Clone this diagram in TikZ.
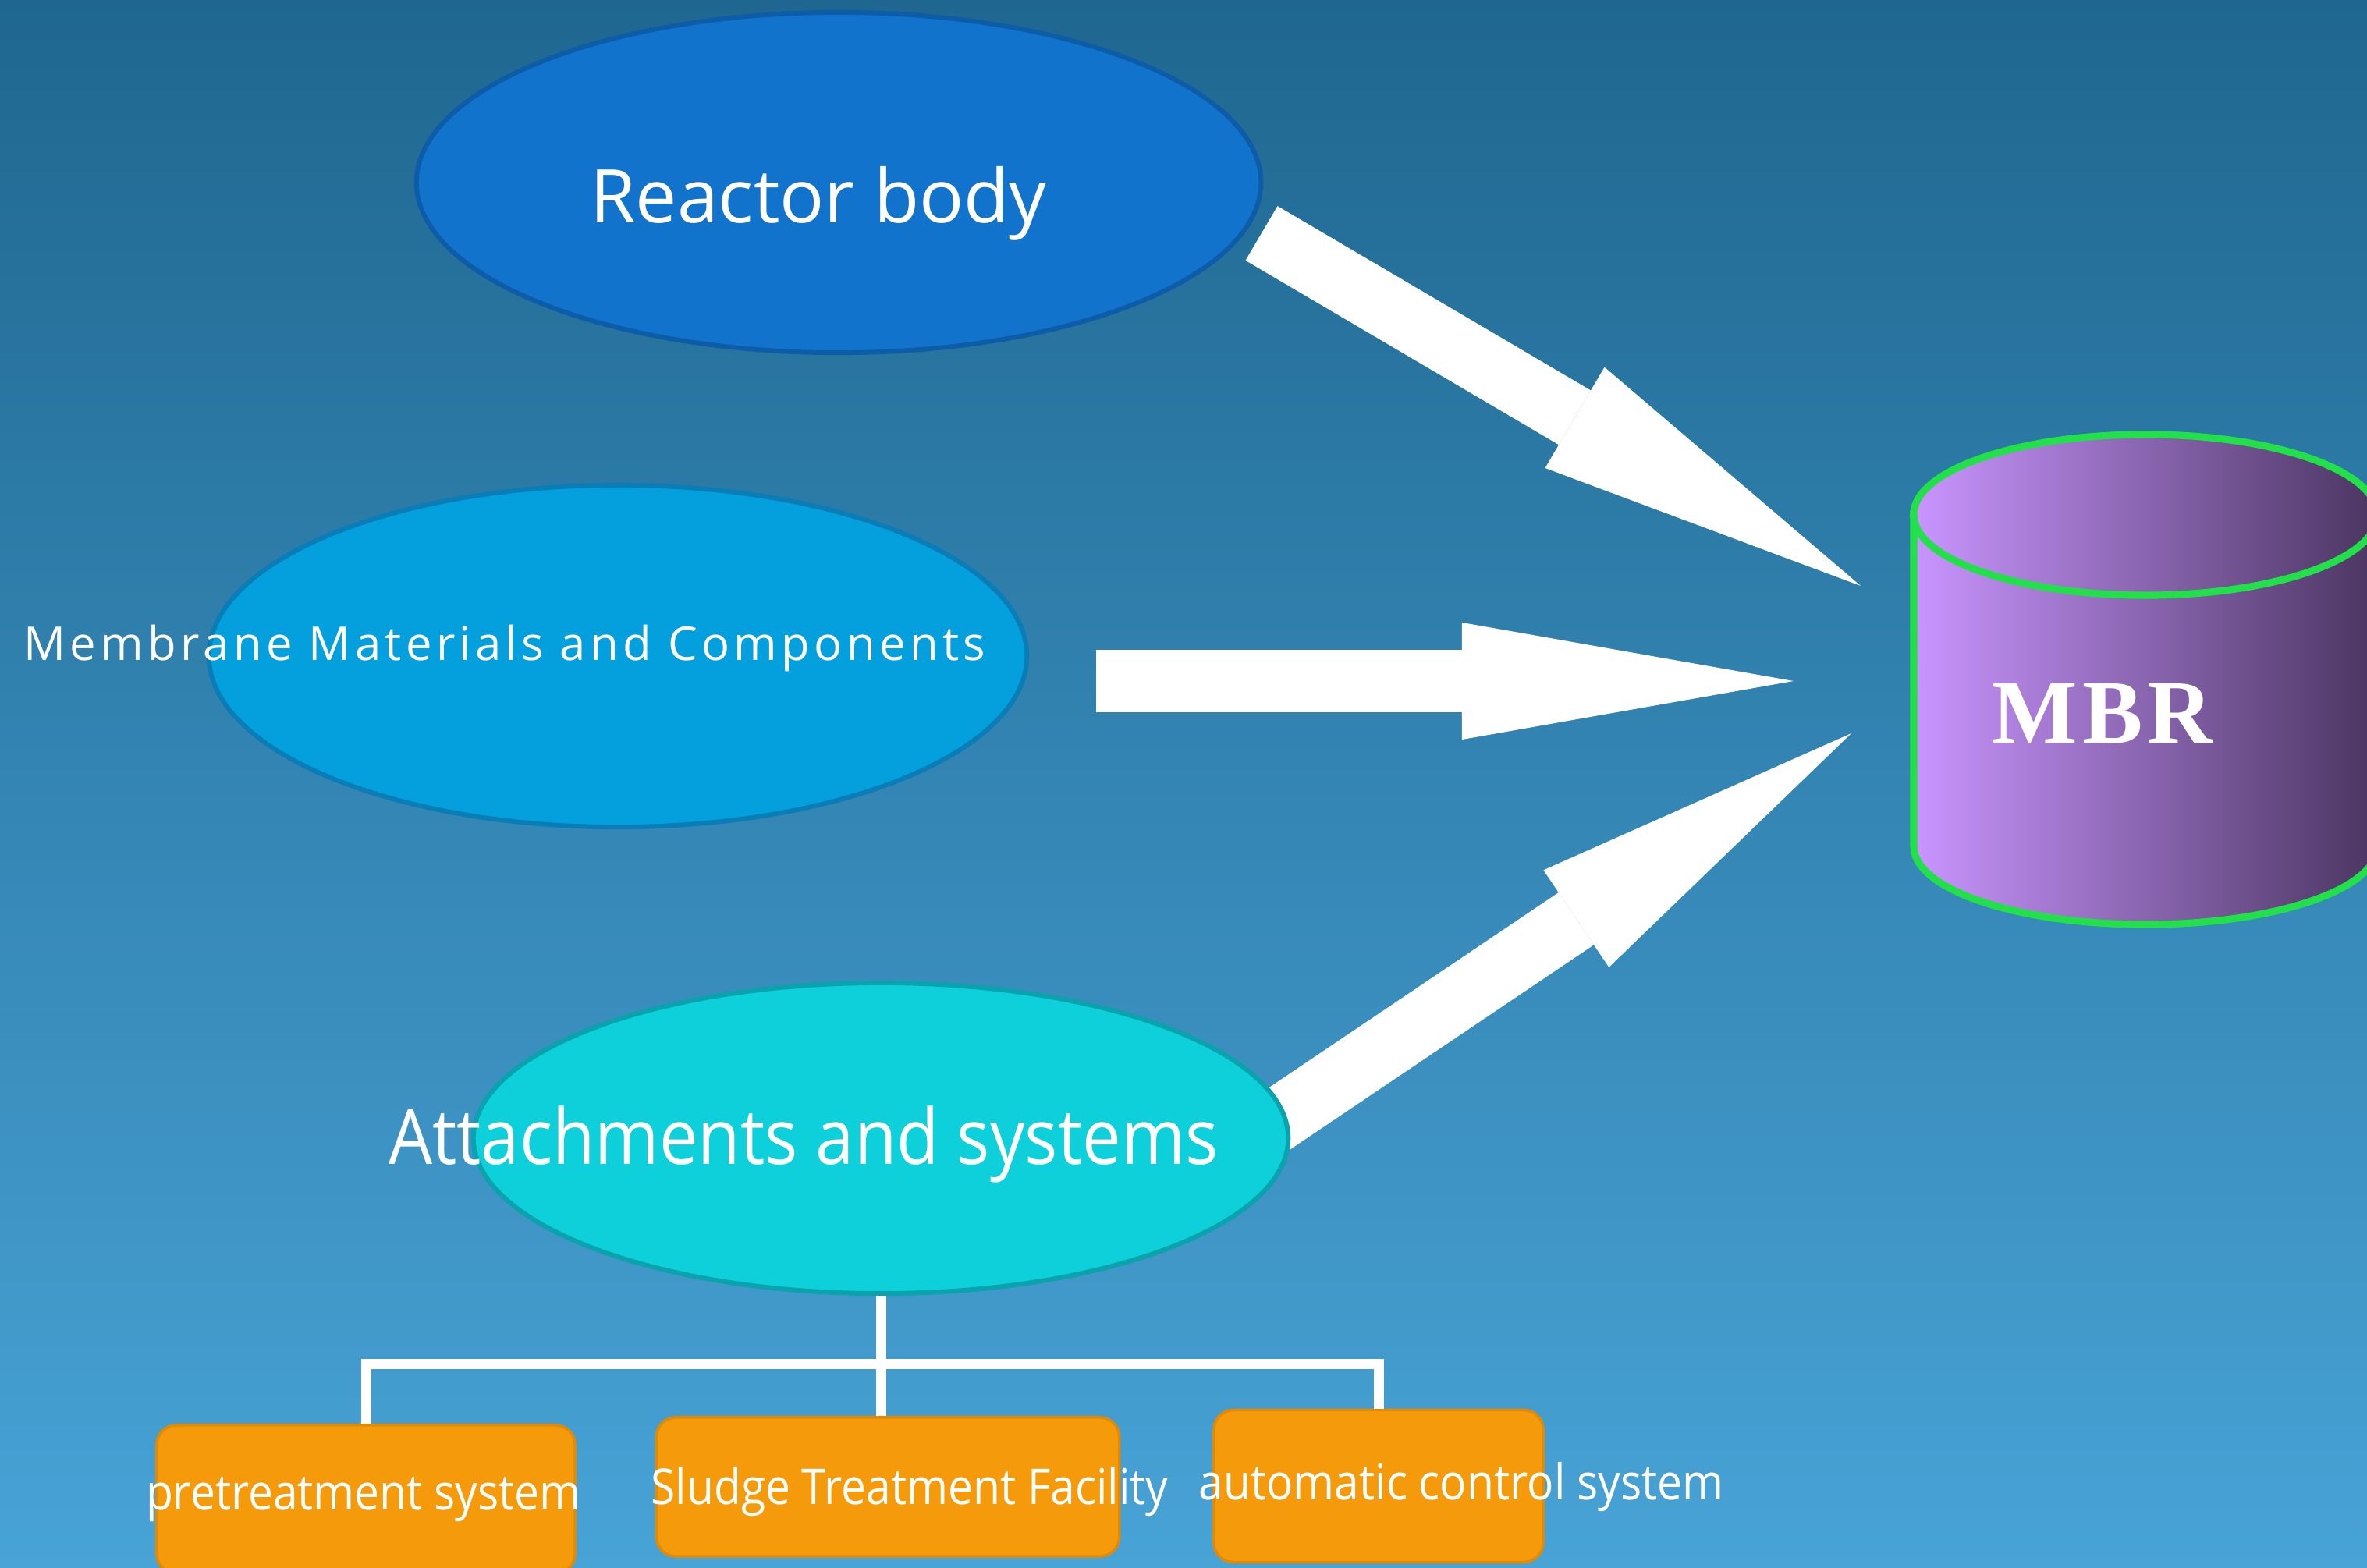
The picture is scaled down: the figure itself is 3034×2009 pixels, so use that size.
\documentclass[tikz,border=0pt]{standalone}
\usepackage{fontspec}
\usepackage{xcolor}
\usepackage{tikz}
\usetikzlibrary{positioning, arrows.meta, calc, shapes.geometric}

\newfontfamily\labelfont{Open Sans}
\newfontfamily\mbrfont{Liberation Serif}
\newcommand{\squeeze}[1]{\scalebox{0.9}[1]{#1}}

\definecolor{bgtop}{HTML}{1F6790}
\definecolor{bgbottom}{HTML}{48A3D6}
\definecolor{reactorfill}{HTML}{1273CD}
\definecolor{reactorline}{HTML}{0D5CA8}
\definecolor{membranefill}{HTML}{04A0DD}
\definecolor{membraneline}{HTML}{0A7DB6}
\definecolor{attachfill}{HTML}{0DD0DA}
\definecolor{attachline}{HTML}{0AA2AC}
\definecolor{boxfill}{HTML}{F59B0B}
\definecolor{boxline}{HTML}{E08A05}
\definecolor{tankline}{HTML}{22E04A}
\definecolor{tanklight}{HTML}{C995FF}
\definecolor{tankdark}{HTML}{4A3560}

\begin{document}
\begin{tikzpicture}[
  x=0.01cm, y=-0.01cm,
  blob/.style={ellipse, line width=1.7pt, inner sep=0pt},
  reactorblob/.style={blob, fill=reactorfill, draw=reactorline,
                      minimum width=10.82cm, minimum height=4.36cm},
  membraneblob/.style={blob, fill=membranefill, draw=membraneline,
                       minimum width=10.48cm, minimum height=4.38cm},
  attachblob/.style={blob, fill=attachfill, draw=attachline,
                     minimum width=10.44cm, minimum height=3.98cm},
  blobtext/.style={anchor=base, text=white, inner sep=0pt},
  bigarrow/.style={white, line width=23pt,
                   -{Triangle[length=4.25cm 0 0, width=1.5cm 0 0, line width=0pt 0 0]}},
  tree/.style={draw=white, line width=3.7pt},
  unitbox/.style={draw=boxline, fill=boxfill, line width=1pt, rounded corners=0.25cm},
  unittext/.style={anchor=base, text=white, inner sep=0pt,
                   font=\labelfont\fontsize{18}{20}\selectfont},
]
  \useasboundingbox (0,0) rectangle (3034,2009);
  \shade[top color=bgtop, bottom color=bgbottom] (0,0) rectangle (3034,2009);

  % arrows into the tank
  \coordinate (a1-tail) at (1617,299);
  \coordinate (a1-tip) at (2385,751);
  \coordinate (a2-tail) at (1405,873);
  \coordinate (a2-tip) at (2299,873);
  \coordinate (a3-tail) at (1625,1444);
  \coordinate (a3-tip) at (2373,940);
  \draw[bigarrow] (a1-tail) -- (a1-tip);
  \draw[bigarrow] (a2-tail) -- (a2-tip);
  \draw[bigarrow] (a3-tail) -- (a3-tip);

  % the three parts
  \node[reactorblob] (reactor) at (1075,234) {};
  \node[blobtext, font=\labelfont\fontsize{27}{30}\selectfont] (reactor-txt)
    at (1049,285) {Reactor body};

  \node[membraneblob] (membrane) at (792,841) {};
  \node[blobtext, font=\labelfont\fontsize{17}{20}\selectfont\addfontfeature{LetterSpace=9}]
    (membrane-txt) at (647,846) {Membrane Materials and Components};

  \node[attachblob] (attach) at (1129,1459) {};
  \node[blobtext, font=\labelfont\fontsize{28}{32}\selectfont] (attach-txt)
    at (1030,1492) {\squeeze{Attachments and systems}};

  % MBR tank
  \shade[left color=tanklight, right color=tankdark, draw=tankline, line width=2.6pt]
    (2453,660) -- (2453,1085) arc[start angle=180, end angle=360, x radius=2.97cm, y radius=1cm]
    -- (3047,660) arc[start angle=0, end angle=180, x radius=2.97cm, y radius=1.03cm] -- cycle;
  \draw[draw=tankline, line width=2.6pt]
    (2453,660) arc[start angle=180, end angle=360, x radius=2.97cm, y radius=1.03cm];
  \node[anchor=base, text=white, inner sep=0pt,
        font=\mbrfont\bfseries\fontsize{33}{36}\selectfont\addfontfeature{LetterSpace=5}]
    (mbr) at (2695,952) {MBR};

  % subsystems
  \node[unitbox, minimum width=5.36cm, minimum height=1.9cm] (pre) at (469,1922) {};
  \node[unitbox, minimum width=5.93cm, minimum height=1.78cm] (sludge) at (1138,1906) {};
  \node[unitbox, minimum width=4.22cm, minimum height=1.95cm] (ctrl) at (1767,1905) {};
  \coordinate (hub) at (attach.south |- 0,1748);
  \draw[tree] (attach.south) -- (hub);
  \draw[tree] (pre.north) |- (hub) -| (ctrl.north);
  \draw[tree] (hub) -- (hub |- sludge.north);

  \node[unittext] (pre-txt) at (466,1935) {\squeeze{pretreatment system}};
  \node[unittext] (sludge-txt) at (1166,1928) {\squeeze{Sludge Treatment Facility}};
  \node[unittext] (ctrl-txt) at (1873,1922) {\squeeze{automatic control system}};
\end{tikzpicture}
\end{document}
